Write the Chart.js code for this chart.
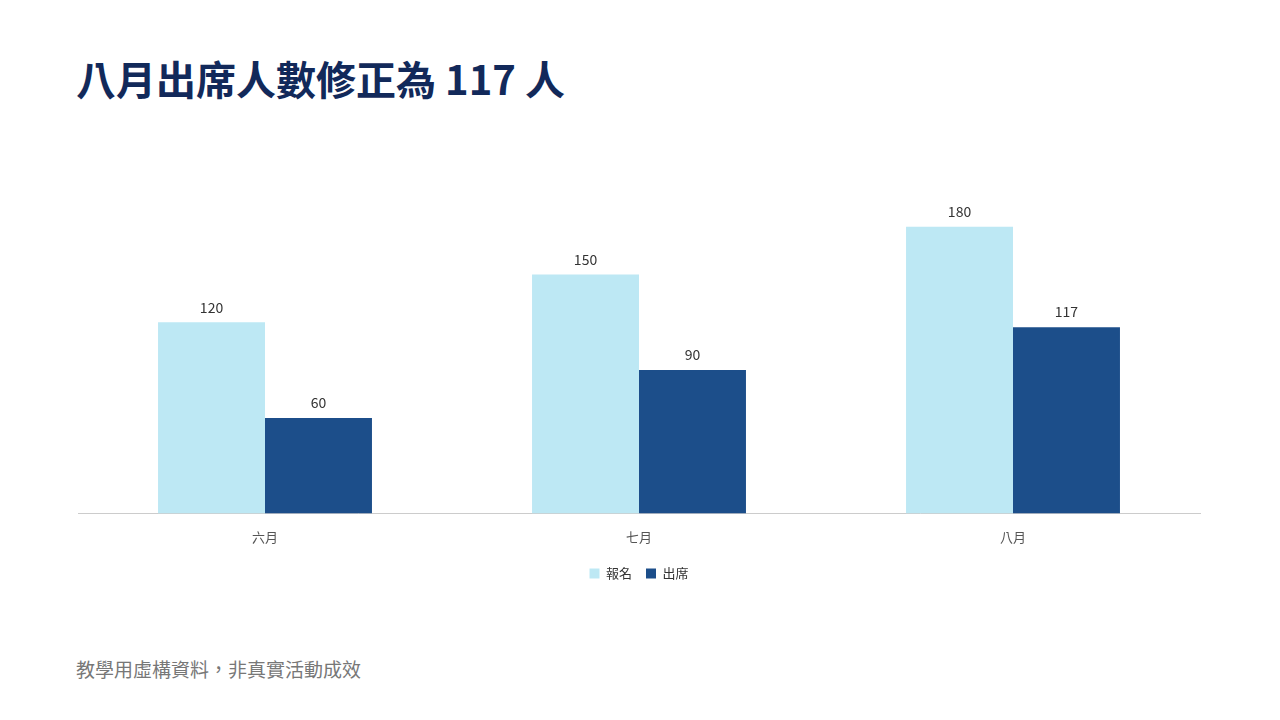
<!DOCTYPE html>
<html><head><meta charset="utf-8">
<script src="https://cdn.jsdelivr.net/npm/chart.js@4"></script>
<style>
body{margin:0;width:1280px;height:720px;background:#fff;font-family:"Noto Sans CJK TC","Noto Sans",sans-serif;position:relative;overflow:hidden}
h1{position:absolute;left:76px;top:50px;margin:0;font-size:40px;font-weight:700;color:#12295a;line-height:56px}
#wrap{position:absolute;left:70px;top:150px;width:1138px;height:450px}
.foot{position:absolute;left:76px;top:655px;font-size:19px;color:#777}
</style></head><body>
<h1>八月出席人數修正為 117 人</h1>
<div id="wrap"><canvas id="c"></canvas></div>
<div class="foot">教學用虛構資料，非真實活動成效</div>
<script>
const categories=["六月","七月","八月"];
const registered=[120,150,180];
const attended=[60,90,117];
const labelsPlugin={id:'vals',afterDatasetsDraw(ch){const ctx=ch.ctx;ctx.save();ctx.font='14px "Noto Sans CJK TC","Noto Sans",sans-serif';ctx.fillStyle='#333';ctx.textAlign='center';ctx.textBaseline='bottom';
ch.data.datasets.forEach((d,i)=>{ch.getDatasetMeta(i).data.forEach((b,j)=>{ctx.fillText(d.data[j],b.x,b.y-8);});});ctx.restore();}};
new Chart(document.getElementById('c'),{type:'bar',
data:{labels:categories,datasets:[
{label:'報名',data:registered,backgroundColor:'#bde8f4'},
{label:'出席',data:attended,backgroundColor:'#1c4e8a'}]},
options:{responsive:true,maintainAspectRatio:false,animation:false,
layout:{padding:{left:8,right:8,top:45,bottom:10}},
categoryPercentage:0.572,barPercentage:1,
scales:{y:{display:false,min:0,max:200},
x:{grid:{display:false},border:{color:'#ccc'},ticks:{color:'#555',font:{size:13,family:'"Noto Sans CJK TC"'},padding:8}}},
plugins:{tooltip:{enabled:false},legend:{position:'bottom',labels:{boxWidth:10,boxHeight:10,color:'#333',font:{size:13,family:'"Noto Sans CJK TC"'},padding:14}}}},
plugins:[labelsPlugin]});
</script></body></html>
